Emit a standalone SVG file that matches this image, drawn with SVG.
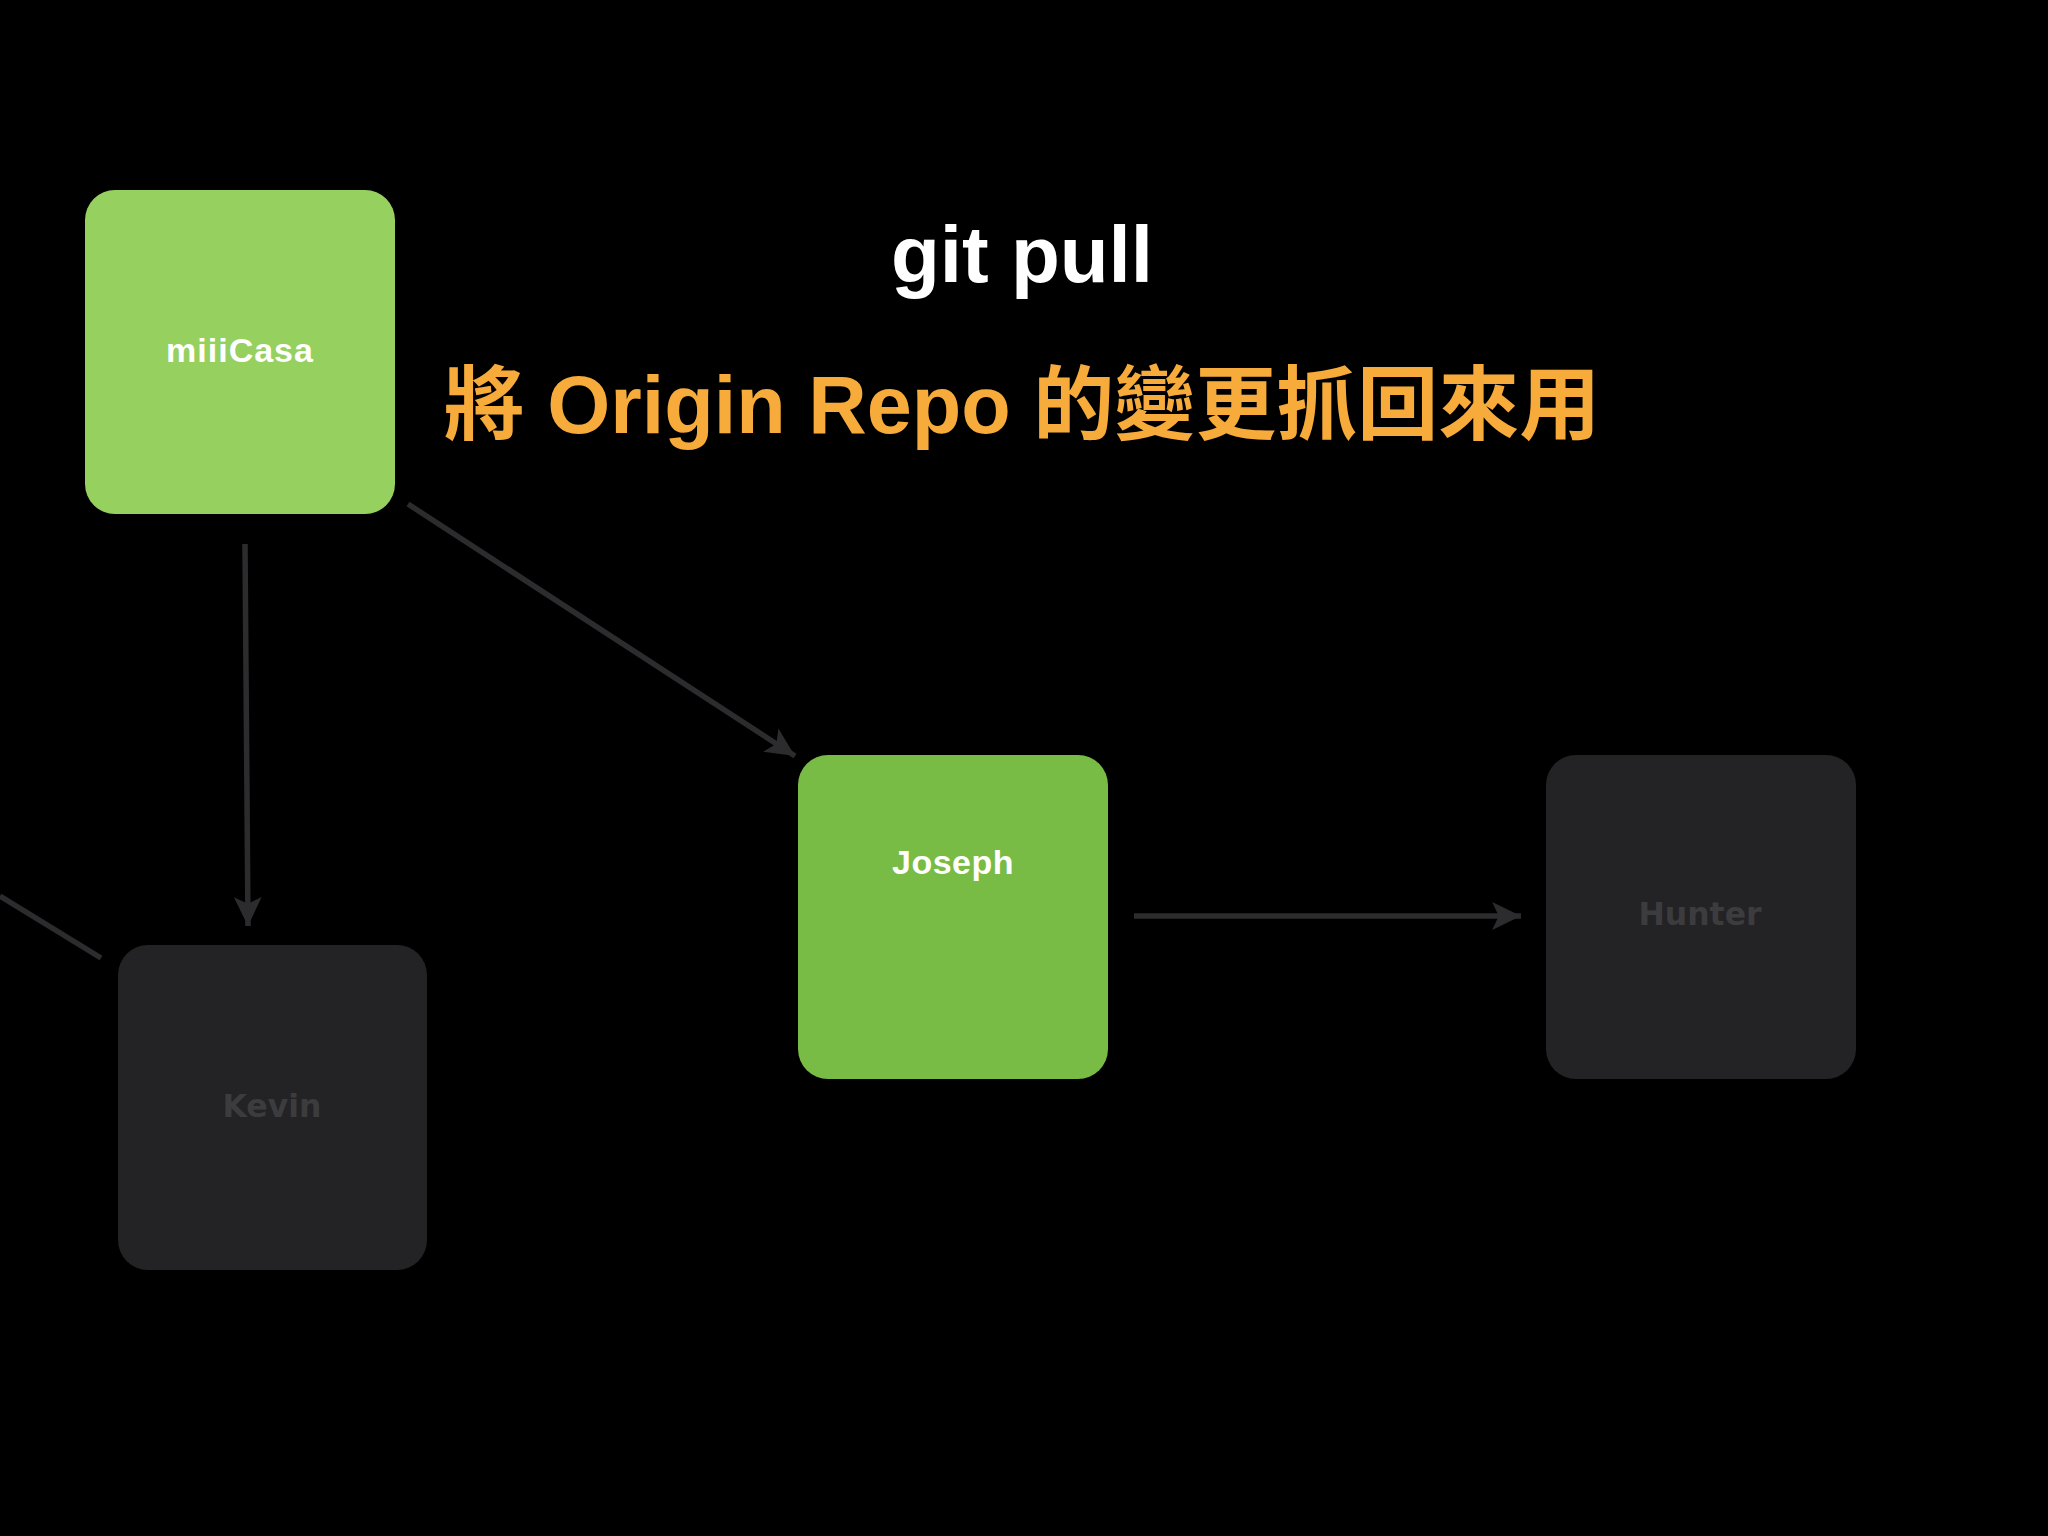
<svg xmlns="http://www.w3.org/2000/svg" width="2048" height="1536" viewBox="0 0 2048 1536">
  <defs>
    <style>
      .conn { stroke: #2c2c2e; stroke-width: 5.5; fill: none; }
      .green1 { fill: #96d05f; }
      .green2 { fill: #78bb45; }
      .dark { fill: #232225; }
      .lbl-light { font-family: "Liberation Sans", Arial, sans-serif; font-weight: bold; fill: #ffffff; text-anchor: middle; }
      .lbl-dark { font-family: "DejaVu Sans", sans-serif; font-weight: bold; fill: #3c3c3e; text-anchor: middle; font-size: 31.5px; }
    </style>
    <marker id="arrow" markerUnits="userSpaceOnUse" markerWidth="30" markerHeight="30" viewBox="0 -13 27 26" refX="26" refY="0" orient="auto">
      <path d="M0,-12.5 L26,0 L0,12.5 L6,0 Z" fill="#2c2c2e"/>
    </marker>
  </defs>
  <rect width="2048" height="1536" fill="#000000"/>

  <g id="connectors">
    <line class="conn" x1="245" y1="544" x2="248" y2="926" marker-end="url(#arrow)"/>
    <line class="conn" x1="408" y1="504" x2="795" y2="756" marker-end="url(#arrow)"/>
    <line class="conn" x1="1134" y1="916" x2="1521" y2="916" marker-end="url(#arrow)"/>
    <line class="conn" x1="0" y1="896" x2="101" y2="958"/>
  </g>

  <g id="title">
    <text x="1022" y="282" font-family="'Liberation Sans', Arial, sans-serif" font-weight="bold" font-size="80" fill="#ffffff" text-anchor="middle">git pull</text>
    <text x="1022" y="433" font-family="'Liberation Sans', 'Noto Sans CJK TC', sans-serif" font-weight="bold" font-size="81" fill="#f6ab3a" text-anchor="middle">將 Origin Repo 的變更抓回來用</text>
  </g>

  <g id="node-miiicasa">
    <rect class="green1" x="85" y="190" width="310" height="324" rx="30" ry="30"/>
    <text class="lbl-light" x="240" y="362" font-size="34" letter-spacing="1">miiiCasa</text>
  </g>

  <g id="node-joseph">
    <rect class="green2" x="798" y="755" width="310" height="324" rx="30" ry="30"/>
    <text class="lbl-light" x="953" y="874" font-size="34" letter-spacing="0.5">Joseph</text>
  </g>

  <g id="node-hunter">
    <rect class="dark" x="1546" y="755" width="310" height="324" rx="30" ry="30"/>
    <text class="lbl-dark" x="1700" y="925">Hunter</text>
  </g>

  <g id="node-kevin">
    <rect class="dark" x="118" y="945" width="309" height="325" rx="30" ry="30"/>
    <text class="lbl-dark" x="272" y="1117">Kevin</text>
  </g>
</svg>
